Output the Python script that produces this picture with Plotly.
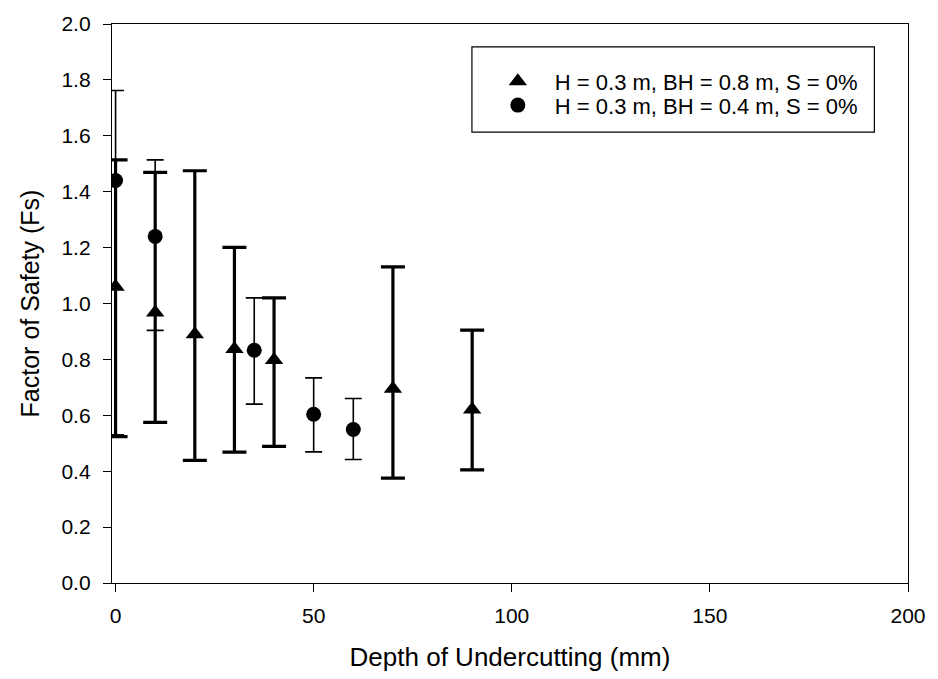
import plotly.graph_objects as go

# Series 1: H = 0.3 m, BH = 0.8 m, S = 0%  (triangles)
tri_x = [0, 10, 20, 30, 40, 70, 90]
tri_y = [1.06, 0.968, 0.89, 0.837, 0.798, 0.695, 0.621]
tri_hi = [1.514, 1.469, 1.475, 1.201, 1.020, 1.131, 0.905]
tri_lo = [0.524, 0.575, 0.439, 0.468, 0.489, 0.375, 0.405]

# Series 2: H = 0.3 m, BH = 0.4 m, S = 0%  (circles)
cir_x = [0, 10, 35, 50, 60]
cir_y = [1.44, 1.240, 0.833, 0.604, 0.549]
cir_hi = [1.762, 1.514, 1.020, 0.734, 0.660]
cir_lo = [0.530, 0.904, 0.640, 0.469, 0.442]

x_ticks = [0, 50, 100, 150, 200]
tri_name = "H = 0.3 m, BH = 0.8 m, S = 0%"
cir_name = "H = 0.3 m, BH = 0.4 m, S = 0%"

FONT = "Liberation Sans, Arial, sans-serif"

fig = go.Figure()
fig.add_trace(go.Scatter(
    x=tri_x, y=tri_y, mode="markers", name=tri_name, legend="legend",
    marker=dict(symbol="triangle-up", size=16, color="black"),
    error_y=dict(type="data", symmetric=False,
                 array=[h - y for h, y in zip(tri_hi, tri_y)],
                 arrayminus=[y - l for l, y in zip(tri_lo, tri_y)],
                 color="black", thickness=3.2, width=12),
))
fig.add_trace(go.Scatter(
    x=cir_x, y=cir_y, mode="markers", name=cir_name, legend="legend2",
    marker=dict(symbol="circle", size=15, color="black"),
    error_y=dict(type="data", symmetric=False,
                 array=[h - y for h, y in zip(cir_hi, cir_y)],
                 arrayminus=[y - l for l, y in zip(cir_lo, cir_y)],
                 color="black", thickness=1.6, width=8.5),
))

# legend frame
fig.add_shape(type="rect", xref="paper", yref="paper",
              x0=(476 - 112) / 805, x1=(883 - 112) / 805,
              y0=(584 - 129) / 564, y1=(584 - 43) / 564,
              line=dict(color="black", width=1.2), fillcolor="rgba(0,0,0,0)")

leg_common = dict(xanchor="left", yanchor="middle", bgcolor="rgba(0,0,0,0)",
                  borderwidth=0, font=dict(size=22, family=FONT), itemwidth=64)

fig.update_layout(
    width=938, height=679,
    margin=dict(l=112, r=21, t=20, b=95, pad=0),
    paper_bgcolor="white", plot_bgcolor="white",
    font=dict(family=FONT, color="black"),
    showlegend=True,
    legend=dict(x=(485 - 112) / 805, y=(584 - 78) / 564, **leg_common),
    legend2=dict(x=(485 - 112) / 805, y=(584 - 102) / 564, **leg_common),
    xaxis=dict(range=[-0.9, 200], tickvals=x_ticks, ticks="outside", ticklen=8,
               tickwidth=1.3, tickcolor="black", showline=True, linecolor="black",
               linewidth=1.3, mirror=True, showgrid=False, zeroline=False,
               tickfont=dict(size=21), ticklabelstandoff=6,
               title=dict(text="Depth of Undercutting (mm)", font=dict(size=26), standoff=21)),
    yaxis=dict(range=[0, 2.0], dtick=0.2, tick0=0, tickformat=".1f", ticks="outside",
               ticklen=8, tickwidth=1.3, tickcolor="black", showline=True,
               linecolor="black", linewidth=1.3, mirror=True, showgrid=False,
               zeroline=False, tickfont=dict(size=21), ticklabelstandoff=8,
               title=dict(text="Factor of Safety (Fs)", font=dict(size=25), standoff=14)),
)

fig.write_html("out.html")
